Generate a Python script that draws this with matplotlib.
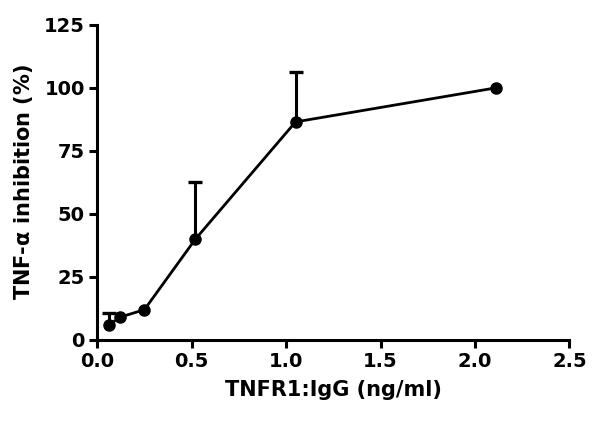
import matplotlib
matplotlib.use("Agg")
import matplotlib.pyplot as plt

# TNFR1:IgG dose (ng/ml) vs TNF-alpha inhibition
dose = [0.064, 0.12, 0.25, 0.52, 1.05, 2.11]
inhibition = [6, 9, 12, 40, 86.5, 100]
err_up = [4.5, 0, 0, 22.5, 20, 0]

plt.rcParams['font.family'] = ['DejaVu Sans']
plt.rcParams['font.weight'] = 'bold'

fig = plt.figure(figsize=(6, 4.33), dpi=100)
ax = fig.add_axes([0.162, 0.215, 0.787, 0.7275])

# upward error bars only (cap on top), where there is an error
ex = [d for d, e in zip(dose, err_up) if e > 0]
ey = [v for v, e in zip(inhibition, err_up) if e > 0]
etop = [v + e for v, e in zip(inhibition, err_up) if e > 0]
ax.vlines(ex, ey, etop, color='black', lw=2.2)
ax.plot(ex, etop, linestyle='none', marker='_', color='black', ms=10, mew=2.4)

ax.plot(dose, inhibition, '-o', color='black', lw=2, ms=8, clip_on=False)

ax.set_xlim(0, 2.5)
ax.set_ylim(0, 125)
ax.set_xticks([0.0, 0.5, 1.0, 1.5, 2.0, 2.5])
ax.set_yticks([0, 25, 50, 75, 100, 125])
ax.xaxis.set_major_formatter(matplotlib.ticker.FormatStrFormatter('%.1f'))

for side in ['top', 'right']:
    ax.spines[side].set_visible(False)
for side in ['left', 'bottom']:
    ax.spines[side].set_linewidth(2.2)
ax.tick_params(width=2.2, length=6, labelsize=14, pad=3)
for lbl in ax.get_xticklabels() + ax.get_yticklabels():
    lbl.set_fontweight('bold')

ax.set_xlabel('TNFR1:IgG (ng/ml)', fontsize=15, fontweight='bold', labelpad=6)
ax.set_ylabel(r'TNF-$\mathregular{\alpha}$ inhibition (%)', fontsize=15,
              fontweight='bold', labelpad=6)

fig.savefig('out.png', dpi=100)
